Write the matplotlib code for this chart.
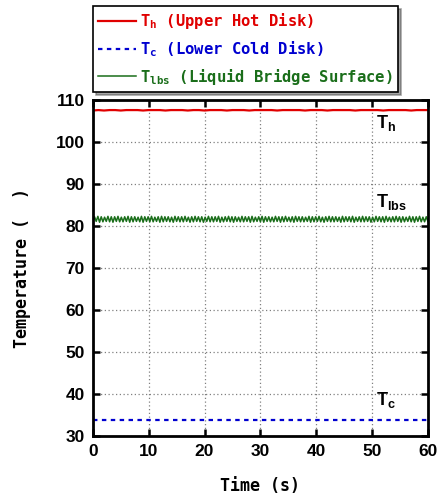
import matplotlib
matplotlib.use("Agg")
import matplotlib.pyplot as plt
import numpy as np

plt.rcParams['font.family'] = ['Liberation Sans', 'DejaVu Sans']
plt.rcParams['font.weight'] = 'bold'
plt.rcParams['mathtext.default'] = 'regular'

# ---- data ----
time_hot = [0, 1, 2, 3, 4, 5, 6, 7, 8, 9, 10, 11, 12, 13, 14, 15, 16, 17, 18, 19, 20,
            21, 22, 23, 24, 25, 26, 27, 28, 29, 30, 31, 32, 33, 34, 35, 36, 37, 38, 39, 40,
            41, 42, 43, 44, 45, 46, 47, 48, 49, 50, 51, 52, 53, 54, 55, 56, 57, 58, 59, 60]
t_hot = [107.5, 107.6, 107.5, 107.6, 107.6, 107.5, 107.6, 107.6, 107.6, 107.5, 107.6,
         107.6, 107.6, 107.5, 107.6, 107.6, 107.6, 107.5, 107.6, 107.6, 107.5,
         107.6, 107.6, 107.6, 107.5, 107.6, 107.6, 107.6, 107.5, 107.6, 107.6,
         107.6, 107.6, 107.5, 107.6, 107.6, 107.6, 107.6, 107.5, 107.6, 107.6,
         107.6, 107.5, 107.6, 107.6, 107.6, 107.6, 107.5, 107.6, 107.6, 107.6,
         107.6, 107.5, 107.6, 107.6, 107.6, 107.6, 107.5, 107.6, 107.6, 107.6]

time_cold = [0, 5, 10, 15, 20, 25, 30, 35, 40, 45, 50, 55, 60]
t_cold = [33.8, 33.8, 33.8, 33.8, 33.8, 33.8, 33.8, 33.8, 33.8, 33.8, 33.8, 33.8, 33.8]

time_lbs = [round(0.3 * i, 2) for i in range(201)]
t_lbs = [81.0, 82.2, 81.1, 82.3, 80.9, 82.2, 81.0, 82.1, 81.1, 82.3,
         81.0, 82.2, 80.9, 82.2, 81.1, 82.3, 81.0, 82.1, 81.0, 82.2,
         81.1, 82.3, 80.9, 82.2, 81.0, 82.2, 81.1, 82.1, 81.0, 82.3,
         80.9, 82.2, 81.1, 82.2, 81.0, 82.3, 81.0, 82.1, 81.1, 82.2,
         80.9, 82.3, 81.0, 82.2, 81.1, 82.2, 81.0, 82.1, 80.9, 82.3,
         81.1, 82.2, 81.0, 82.2, 81.0, 82.3, 81.1, 82.1, 80.9, 82.2,
         81.0, 82.3, 81.1, 82.2, 81.0, 82.2, 80.9, 82.1, 81.1, 82.3,
         81.0, 82.2, 81.0, 82.2, 81.1, 82.3, 80.9, 82.1, 81.0, 82.2,
         81.1, 82.3, 81.0, 82.2, 80.9, 82.2, 81.1, 82.1, 81.0, 82.3,
         81.0, 82.2, 81.1, 82.2, 80.9, 82.3, 81.0, 82.1, 81.1, 82.2,
         81.0, 82.3, 80.9, 82.2, 81.1, 82.2, 81.0, 82.1, 81.0, 82.3,
         81.1, 82.2, 80.9, 82.2, 81.0, 82.3, 81.1, 82.1, 81.0, 82.2,
         80.9, 82.3, 81.1, 82.2, 81.0, 82.2, 81.0, 82.1, 81.1, 82.3,
         80.9, 82.2, 81.0, 82.2, 81.1, 82.3, 81.0, 82.1, 80.9, 82.2,
         81.1, 82.3, 81.0, 82.2, 81.0, 82.2, 81.1, 82.1, 80.9, 82.3,
         81.0, 82.2, 81.1, 82.2, 81.0, 82.3, 80.9, 82.1, 81.1, 82.2,
         81.0, 82.3, 81.0, 82.2, 81.1, 82.2, 80.9, 82.1, 81.0, 82.3,
         81.1, 82.2, 81.0, 82.2, 80.9, 82.3, 81.1, 82.1, 81.0, 82.2,
         81.0, 82.3, 81.1, 82.2, 80.9, 82.2, 81.0, 82.1, 81.1, 82.3,
         81.0, 82.2, 80.9, 82.2, 81.1, 82.3, 81.0, 82.1, 81.0, 82.2,
         81.1]

x_ticks = [0, 10, 20, 30, 40, 50, 60]
y_ticks = [30, 40, 50, 60, 70, 80, 90, 100, 110]

fig = plt.figure(figsize=(4.38, 5.0), dpi=100)
ax = fig.add_axes([0.212, 0.128, 0.765, 0.672])

red, blue, green = '#e00000', '#0000d0', '#1a6e1a'
l1, = ax.plot(time_hot, t_hot, color=red, lw=1.6,
              label=r'$T_h$ (Upper Hot Disk)')
l2, = ax.plot(time_cold, t_cold, color=blue, lw=1.6, linestyle=(0, (2, 2)),
              label=r'$T_c$ (Lower Cold Disk)')
l3, = ax.plot(time_lbs, t_lbs, color=green, lw=1.1,
              label=r'$T_{lbs}$ (Liquid Bridge Surface)')

ax.set_xlim(0, 60)
ax.set_ylim(30, 110)
ax.set_xticks(x_ticks)
ax.set_yticks(y_ticks)
ax.tick_params(direction='in', length=5, width=1.8, top=True, right=True,
               labelsize=12.5, pad=6)
for lab in ax.get_xticklabels() + ax.get_yticklabels():
    lab.set_fontweight('bold')
for s in ax.spines.values():
    s.set_linewidth(2.0)
ax.grid(True, color='#808080', linestyle=(0, (1, 2)), linewidth=0.9)

mono = ['DejaVu Sans Mono', 'DejaVu Sans']
lab_font = dict(family=mono, weight='bold', size=12)
ax.set_xlabel('Time (s)', **lab_font, labelpad=13)
ax.set_ylabel('Temperature (  )', **lab_font, labelpad=18)

ax.text(50.7, 103.3, r'$T_h$', fontsize=13, fontweight='bold')
ax.text(50.7, 84.6, r'$T_{lbs}$', fontsize=13, fontweight='bold')
ax.text(50.7, 37.3, r'$T_c$', fontsize=13, fontweight='bold')

leg = fig.legend(handles=[l1, l2, l3], loc='upper left',
                 bbox_to_anchor=(0.212, 0.988), frameon=True, fancybox=False,
                 shadow=True, edgecolor='black', framealpha=1,
                 prop=dict(family=mono, weight='bold', size=11.2),
                 handlelength=2.4, handletextpad=0.3, labelspacing=0.5,
                 borderpad=0.35, borderaxespad=0)
leg.get_frame().set_linewidth(1.2)
for txt, c in zip(leg.get_texts(), [red, blue, green]):
    txt.set_color(c)

fig.savefig('out.png', dpi=100)
